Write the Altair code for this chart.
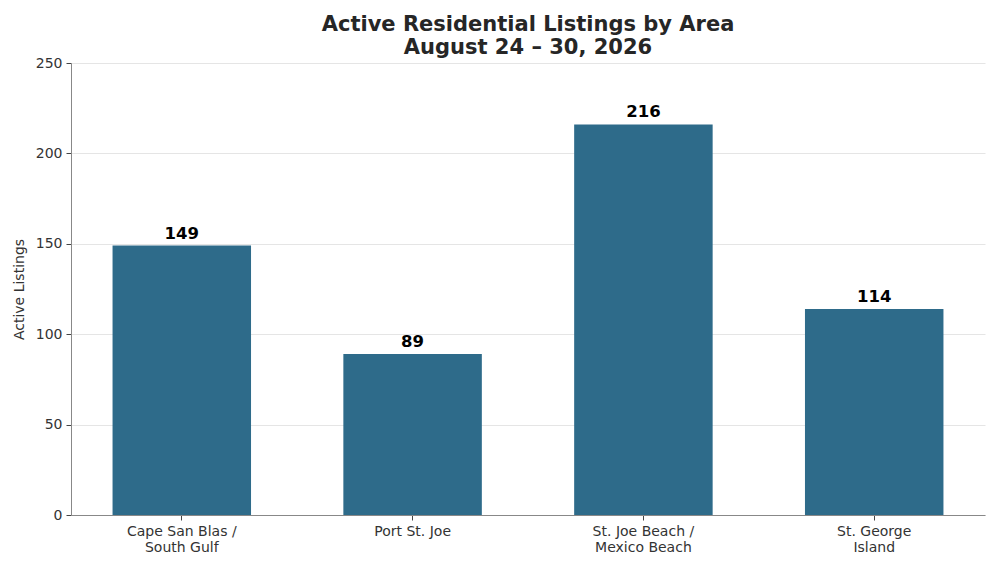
import pandas as pd
import altair as alt

areas = ["Cape San Blas /\nSouth Gulf", "Port St. Joe", "St. Joe Beach /\nMexico Beach", "St. George\nIsland"]
listings = [149, 89, 216, 114]

df = pd.DataFrame({"Area": areas, "Listings": listings})

FONT = "DejaVu Sans"
BAR_COLOR = "#2e6b8a"

x_enc = alt.X(
    "Area:N",
    sort=areas,
    title=None,
    scale=alt.Scale(paddingInner=0.4, paddingOuter=0.18),
    axis=alt.Axis(
        labelAngle=0,
        labelExpr="split(datum.label, '\\n')",
        labelFont=FONT,
        labelFontSize=14,
        labelColor="#333333",
        labelLineHeight=16,
        labelPadding=4,
        tickSize=5,
        tickColor="#444444",
        domainColor="#888888",
        grid=False,
    ),
)

y_enc = alt.Y(
    "Listings:Q",
    title="Active Listings",
    scale=alt.Scale(domain=[0, 250], nice=False),
    axis=alt.Axis(
        values=[0, 50, 100, 150, 200, 250],
        labelFont=FONT,
        labelFontSize=14,
        labelColor="#333333",
        labelPadding=4,
        titleFont=FONT,
        titleFontSize=14,
        titleFontWeight="normal",
        titleColor="#333333",
        titlePadding=9,
        tickSize=5,
        tickColor="#444444",
        domainColor="#888888",
        gridColor="#e5e5e5",
    ),
)

bars = alt.Chart(df).mark_bar(color=BAR_COLOR).encode(x=x_enc, y=y_enc)

labels = alt.Chart(df).mark_text(
    font=FONT, fontSize=16.5, fontWeight="bold", color="black", baseline="bottom", dy=-4
).encode(
    x=alt.X("Area:N", sort=areas),
    y="Listings:Q",
    text="Listings:Q",
)

chart = (bars + labels).properties(
    width=914,
    height=452,
    autosize=alt.AutoSizeParams(type="none"),
    padding={"left": 63, "top": 55, "right": 7, "bottom": 47},
    title=alt.TitleParams(
        text=["Active Residential Listings by Area", "August 24 \u2013 30, 2026"],
        font=FONT,
        fontSize=21,
        fontWeight="bold",
        color="#262626",
        lineHeight=23,
        anchor="middle",
        offset=4,
        dy=6,
    ),
).configure_view(stroke=None)

chart.save("out.html", embed_options={"renderer": "svg", "actions": False})
